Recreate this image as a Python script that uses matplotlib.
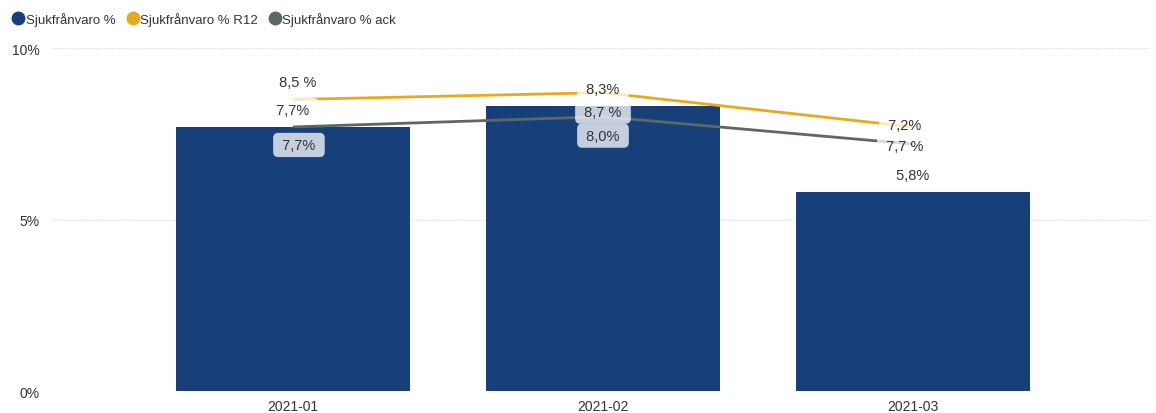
import matplotlib
matplotlib.use("Agg")
import matplotlib.pyplot as plt
from matplotlib.lines import Line2D
from matplotlib.ticker import FuncFormatter

plt.rcParams["font.family"] = ["Liberation Sans", "DejaVu Sans"]

# Monthly sick-leave data
months = ["2021-01", "2021-02", "2021-03"]
sick_pct = [7.7, 8.3, 5.8]          # Sjukfrånvaro %
sick_r12 = [8.5, 8.7, 7.7]          # Sjukfrånvaro % R12
sick_ack = [7.7, 8.0, 7.2]          # Sjukfrånvaro % ack
y_ticks = [0, 5, 10]

BAR_C = "#17407a"
R12_C = "#e8a91e"
ACK_C = "#5d6866"
TXT_C = "#333333"

fig = plt.figure(figsize=(11.56, 4.14), dpi=100)
ax = fig.add_axes([0.045, 0.053, 0.95, 0.8285])

x = list(range(len(months)))
ax.bar(x, sick_pct, width=0.755, color=BAR_C, zorder=2)
ax.plot(x, sick_r12, color=R12_C, lw=2, zorder=3, solid_capstyle="butt")
ax.plot(x, sick_ack, color=ACK_C, lw=2, zorder=3, solid_capstyle="butt")

ax.set_xlim(-0.777, 2.765)
ax.set_ylim(0, 10)
ax.set_yticks(y_ticks)
ax.yaxis.set_major_formatter(FuncFormatter(lambda v, _: f"{v:.0f}%"))
ax.set_xticks(x)
ax.set_xticklabels(months)
ax.tick_params(axis="both", length=0, labelsize=10, colors=TXT_C, pad=6)
ax.tick_params(axis="y", pad=9)
for s in ax.spines.values():
    s.set_visible(False)
ax.grid(axis="y", color="#d4d4d4", lw=0.8, ls=(0, (1, 1.5)), zorder=0)
ax.set_axisbelow(True)


def fmt(v, space=False):
    s = f"{v:.1f}".replace(".", ",")
    return s + (" %" if space else "%")


def label(xi, yv, text, dx, dy):
    ax.annotate(f" {text} ", (xi, yv), xytext=(dx, dy), textcoords="offset pixels",
                ha="center", va="center", fontsize=10.5, color=TXT_C, zorder=5,
                bbox=dict(boxstyle="round,pad=0.35,rounding_size=0.35",
                          fc="white", ec="none", alpha=0.75))


# bar value labels (above bar ends)
for xi, v in zip(x, sick_pct):
    label(xi, v, fmt(v), 0, 17)

# R12 labels
label(0, sick_r12[0], fmt(sick_r12[0], True), 5, 18)
label(1, sick_r12[1], fmt(sick_r12[1], True), 0, -19)
label(2, sick_r12[2], fmt(sick_r12[2], True), -8, -19)

# cumulative labels
label(0, sick_ack[0], fmt(sick_ack[0]), 6, -18)
label(1, sick_ack[1], fmt(sick_ack[1]), 0, -19)
label(2, sick_ack[2], fmt(sick_ack[2]), -8, 19)

# legend
handles = [Line2D([], [], ls="", marker="o", ms=9, color=c)
           for c in (BAR_C, R12_C, ACK_C)]
fig.legend(handles, ["Sjukfrånvaro %", "Sjukfrånvaro % R12", "Sjukfrånvaro % ack"],
           loc="upper left", bbox_to_anchor=(0.0, 0.995), ncol=3, frameon=False,
           fontsize=9.5, handletextpad=-0.05, columnspacing=0.7,
           handlelength=1.2, borderaxespad=0.4, labelcolor=TXT_C)

fig.savefig("out.png", dpi=100)
